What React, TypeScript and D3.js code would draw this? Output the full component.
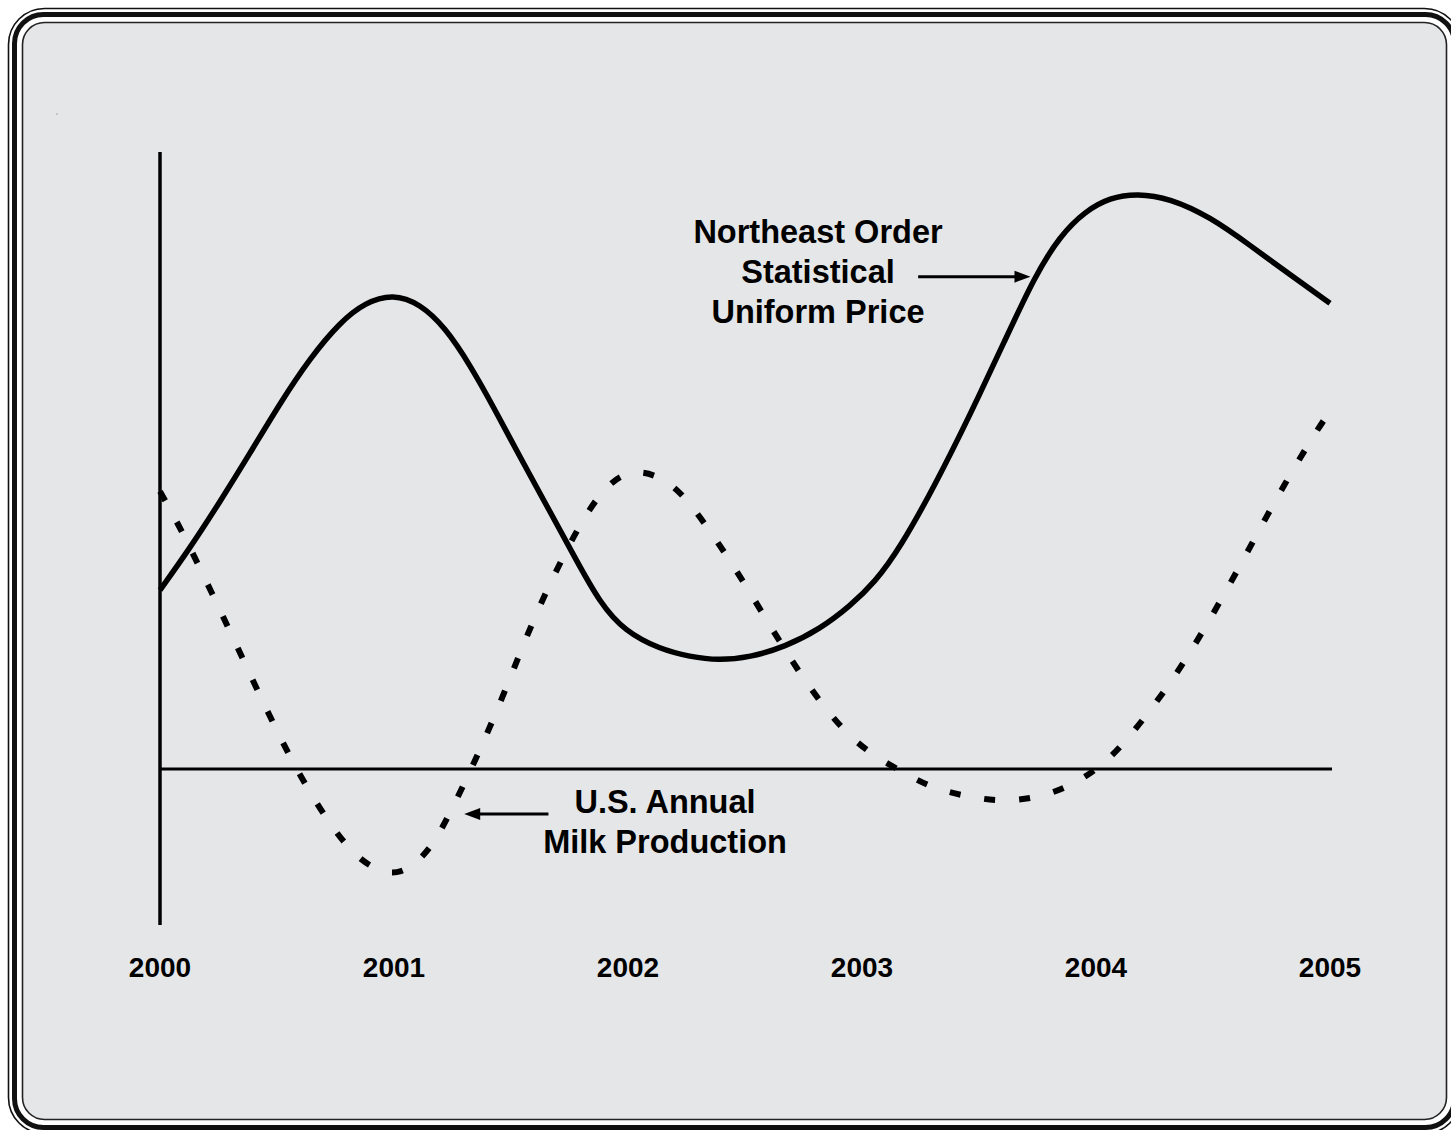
import React from "react";
import * as d3 from "d3";

const W = 1451;
const H = 1130;

const yearTicks = [2000, 2001, 2002, 2003, 2004, 2005];

// Northeast Order Statistical Uniform Price (index, arbitrary units)
const priceYears = [2000.0, 2000.128, 2000.256, 2000.385, 2000.513, 2000.641, 2000.769, 2000.876, 2000.996, 2001.111, 2001.218, 2001.325, 2001.432, 2001.538, 2001.658, 2001.774, 2001.88, 2001.987, 2002.137, 2002.265, 2002.385, 2002.521, 2002.671, 2002.821, 2002.949, 2003.056, 2003.162, 2003.312, 2003.462, 2003.611, 2003.739, 2003.846, 2003.953, 2004.06, 2004.175, 2004.316, 2004.487, 2004.658, 2004.829, 2005.0];
const priceValues = [29.0, 35.8, 43.3, 51.2, 59.3, 66.6, 72.4, 75.6, 77.0, 75.4, 71.6, 65.5, 58.2, 50.6, 42.3, 34.2, 26.9, 22.3, 19.4, 18.2, 17.6, 18.1, 19.8, 22.7, 26.4, 30.3, 35.8, 46.0, 57.4, 69.5, 79.9, 86.4, 90.4, 92.6, 93.3, 92.5, 89.5, 84.9, 80.1, 75.5];

// U.S. Annual Milk Production (index, arbitrary units)
const milkYears = [2000.0, 2000.09, 2000.22, 2000.35, 2000.48, 2000.62, 2000.79, 2000.91, 2001.03, 2001.15, 2001.23, 2001.36, 2001.48, 2001.59, 2001.72, 2001.87, 2002.01, 2002.17, 2002.28, 2002.45, 2002.61, 2002.77, 2002.96, 2003.15, 2003.29, 2003.44, 2003.59, 2003.75, 2003.89, 2004.02, 2004.13, 2004.32, 2004.48, 2004.63, 2004.77, 2004.93, 2005.0];
const milkValues = [45.0, 38.9, 28.7, 18.2, 7.6, -2.8, -12.6, -16.3, -17.4, -13.4, -7.9, 2.3, 13.1, 23.8, 34.4, 44.8, 49.0, 47.0, 42.5, 33.1, 23.0, 13.3, 4.2, 0.0, -3.0, -4.4, -5.3, -4.7, -2.8, 0.3, 4.5, 13.8, 23.7, 33.9, 43.9, 54.1, 58.0];

const priceLabel = ["Northeast Order", "Statistical", "Uniform Price"];
const milkLabel = ["U.S. Annual", "Milk Production"];

const FONT = "'Liberation Sans', Arial, Helvetica, sans-serif";

export default function App() {
  const x = d3.scaleLinear().domain([2000, 2005]).range([160, 1330]);
  const y = d3.scaleLinear().domain([0, 100]).range([769, 152]);

  const line = d3
    .line<[number, number]>()
    .x((d) => x(d[0]))
    .y((d) => y(d[1]))
    .curve(d3.curveBasis);

  const pricePts: [number, number][] = priceYears.map((t, i) => [t, priceValues[i]]);
  const milkPts: [number, number][] = milkYears.map((t, i) => [t, milkValues[i]]);

  const axisX = x(2000);
  const axisTop = y(100);
  const axisBottom = y(-25.3);
  const zeroY = y(0);

  // annotation anchors (data coords)
  const neArrowY = y(79.8);
  const neArrowStart = x(2003.24);
  const neArrowEnd = x(2003.72);
  const usArrowY = y(-7.3);
  const usArrowStart = x(2001.66);
  const usArrowEnd = x(2001.30);

  return (
    <svg
      width={W}
      height={H}
      style={{ display: "block", position: "absolute", left: 0, top: 0 }}
    >
      <rect x={0} y={0} width={W} height={H} fill="#ffffff" />
      {/* frame */}
      <rect x={8.5} y={8.5} width={1452} height={1125} rx={36} ry={36} fill="none" stroke="#111" strokeWidth={1.6} />
      <rect x={14.5} y={14.5} width={1440} height={1113} rx={29} ry={29} fill="none" stroke="#111" strokeWidth={5} />
      <rect x={22.5} y={22.5} width={1424} height={1097} rx={22} ry={22} fill="#e5e6e8" stroke="#222" strokeWidth={1.6} />
      <circle cx={57} cy={114} r={0.7} fill="#888" />

      {/* axes */}
      <line x1={axisX} x2={axisX} y1={axisTop} y2={axisBottom} stroke="#000" strokeWidth={3.5} />
      <line x1={axisX} x2={x(2005) + 2} y1={zeroY} y2={zeroY} stroke="#000" strokeWidth={3} />

      {/* series */}
      <path d={line(pricePts) || ""} fill="none" stroke="#000" strokeWidth={5.5} />
      <path
        d={line(milkPts) || ""}
        fill="none"
        stroke="#000"
        strokeWidth={6}
        strokeDasharray="11 24"
      />

      {/* x tick labels */}
      {yearTicks.map((t) => (
        <text
          key={t}
          x={x(t)}
          y={977}
          textAnchor="middle"
          fontFamily={FONT}
          fontWeight="bold"
          fontSize={28}
          fill="#000"
        >
          {t}
        </text>
      ))}

      {/* annotations */}
      {priceLabel.map((s, i) => (
        <text
          key={s}
          x={818}
          y={243 + i * 40}
          textAnchor="middle"
          fontFamily={FONT}
          fontWeight="bold"
          fontSize={32.5}
          fill="#000"
        >
          {s}
        </text>
      ))}
      <line x1={neArrowStart} x2={neArrowEnd - 14} y1={neArrowY} y2={neArrowY} stroke="#000" strokeWidth={3} />
      <path
        d={`M${neArrowEnd},${neArrowY} L${neArrowEnd - 16},${neArrowY - 6} L${neArrowEnd - 16},${neArrowY + 6} Z`}
        fill="#000"
      />

      {milkLabel.map((s, i) => (
        <text
          key={s}
          x={665}
          y={813 + i * 40}
          textAnchor="middle"
          fontFamily={FONT}
          fontWeight="bold"
          fontSize={32.5}
          fill="#000"
        >
          {s}
        </text>
      ))}
      <line x1={usArrowStart} x2={usArrowEnd + 14} y1={usArrowY} y2={usArrowY} stroke="#000" strokeWidth={3} />
      <path
        d={`M${usArrowEnd},${usArrowY} L${usArrowEnd + 16},${usArrowY - 6} L${usArrowEnd + 16},${usArrowY + 6} Z`}
        fill="#000"
      />
    </svg>
  );
}
